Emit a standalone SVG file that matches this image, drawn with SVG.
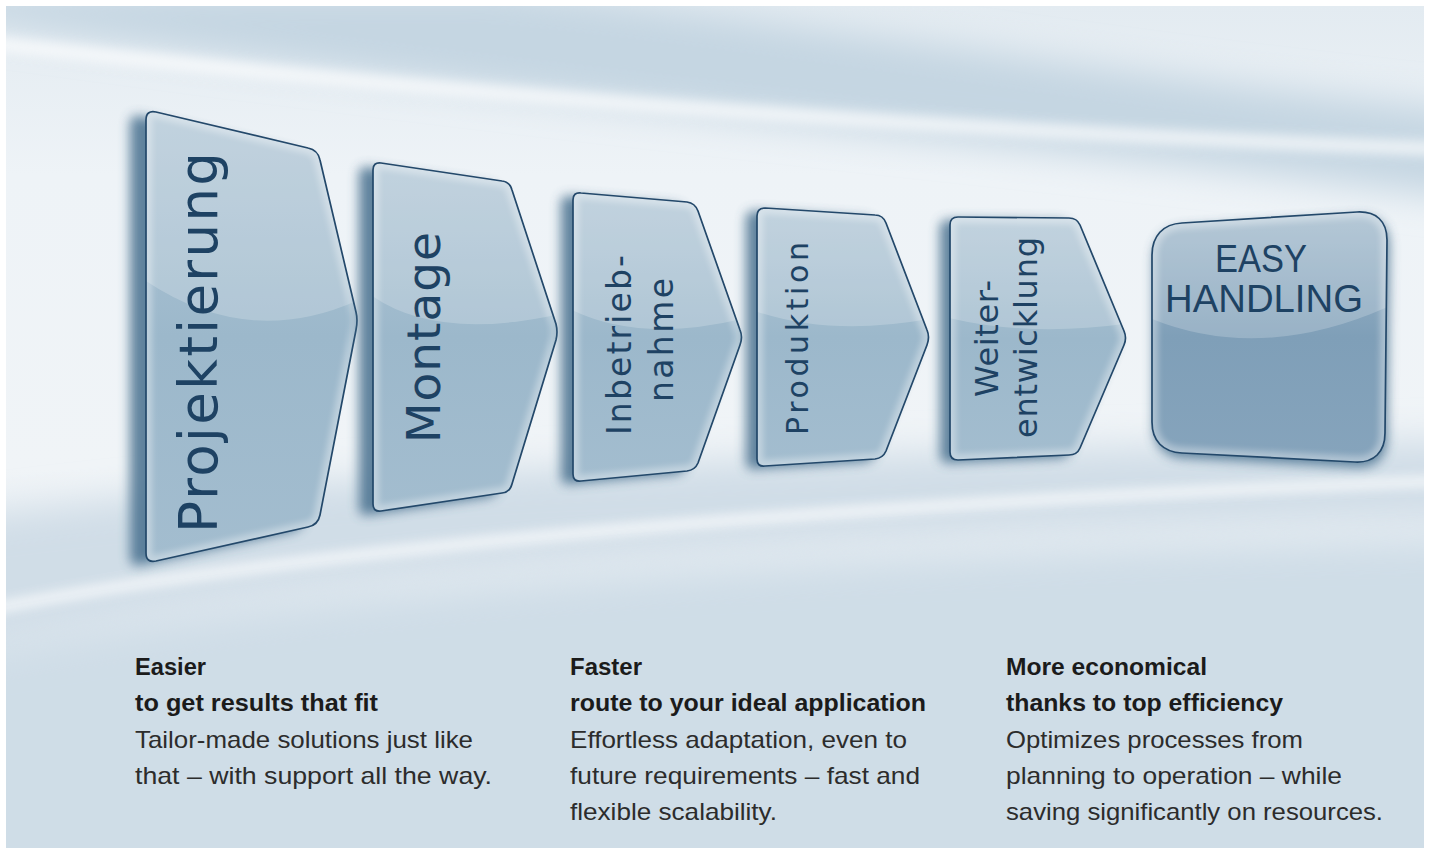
<svg xmlns="http://www.w3.org/2000/svg" width="1430" height="851" viewBox="0 0 1430 851">
<style>
.pt{font-family:"DejaVu Sans","Liberation Sans",sans-serif;fill:#1e4263;}
.ez{font-family:"Liberation Sans",Arial,sans-serif;fill:#1e4263;}
.hd{font-family:"Liberation Sans",Arial,sans-serif;font-weight:bold;font-size:23px;fill:#1b1b1b;}
.bd{font-family:"Liberation Sans",Arial,sans-serif;font-size:24px;fill:#2c2c2c;}
.edge{fill:none;stroke:#23486a;stroke-width:1.7;}
.glow{fill:none;stroke:#ffffff;stroke-width:12;opacity:.35;}
.hl{fill:#ffffff;opacity:.2;}
.sh{fill:#46708e;opacity:.85;}
</style>
<defs>
<linearGradient id="bg" x1="0" y1="0" x2="0" y2="1">
<stop offset="0" stop-color="#e3ebf1"/>
<stop offset=".2" stop-color="#eef3f7"/>
<stop offset=".55" stop-color="#f0f4f7"/>
<stop offset=".72" stop-color="#dfe8ef"/>
<stop offset="1" stop-color="#c9d9e4"/>
</linearGradient>
<linearGradient id="gp" x1="0" y1="0" x2="0" y2="1">
<stop offset="0" stop-color="#b3c8d7"/>
<stop offset=".5" stop-color="#9cb8cb"/>
<stop offset="1" stop-color="#a3bdcf"/>
</linearGradient>
<linearGradient id="gp6" x1="0" y1="0" x2="0" y2="1">
<stop offset="0" stop-color="#a3bbcd"/>
<stop offset=".5" stop-color="#7f9fb8"/>
<stop offset="1" stop-color="#86a4bc"/>
</linearGradient>
<filter id="b6" x="-30%" y="-30%" width="160%" height="160%"><feGaussianBlur stdDeviation="6"/></filter>
<filter id="b3" x="-10%" y="-10%" width="120%" height="120%"><feGaussianBlur stdDeviation="3"/></filter>
<filter id="b20" x="-20%" y="-50%" width="140%" height="200%"><feGaussianBlur stdDeviation="18"/></filter>
<clipPath id="frame"><rect x="6" y="6" width="1418" height="842"/></clipPath>
<path id="p1" d="M146,120 Q146,110 156,112 L308,148 Q318,150 320,160 L356,312 Q358,320 356,330 L320,515 Q318,525 308,527 L156,561 Q146,563 146,553 Z"/>
<path id="p2" d="M373,170 Q373,162 381,163 L502,181 Q510,182 512,190 L556,324 Q558,332 556,340 L512,484 Q510,492 502,493 L381,511 Q373,512 373,504 Z"/>
<path id="p3" d="M573,200 Q573,192 581,193 L687,202 Q695,203 698,211 L740,330 Q743,337 740,345 L698,463 Q695,470 687,471 L581,481 Q573,482 573,474 Z"/>
<path id="p4" d="M757,216 Q757,208 765,208 L875,215 Q883,215 886,223 L927,330 Q930,337 927,345 L886,451 Q883,458 875,459 L765,466 Q757,467 757,459 Z"/>
<path id="p5" d="M950,225 Q950,217 958,217 L1069,218 Q1077,218 1080,225 L1124,331 Q1127,338 1124,345 L1080,448 Q1077,455 1069,455 L958,460 Q950,460 950,452 Z"/>
<path id="p6" d="M1152,255 C1152,236 1163,224 1182,223 L1357,212 C1376,211 1387,221 1387,240 L1385,433 C1385,452 1374,463 1355,462 L1182,453 C1163,452 1152,441 1152,422 Z"/>
<clipPath id="c1"><use href="#p1"/></clipPath>
<clipPath id="c2"><use href="#p2"/></clipPath>
<clipPath id="c3"><use href="#p3"/></clipPath>
<clipPath id="c4"><use href="#p4"/></clipPath>
<clipPath id="c5"><use href="#p5"/></clipPath>
<clipPath id="c6"><use href="#p6"/></clipPath>
</defs>
<rect width="1430" height="851" fill="#ffffff"/>
<g id="background" clip-path="url(#frame)">
<rect x="6" y="6" width="1418" height="842" fill="url(#bg)"/>
<path d="M-40,-10 L500,-10 C800,20 1150,80 1470,110 L1470,200 C1100,150 600,110 -40,20 Z" fill="#c5d6e2" filter="url(#b20)"/>
<path d="M-40,40 C400,90 900,130 1470,150" fill="none" stroke="#ffffff" stroke-width="14" opacity=".7" filter="url(#b6)"/>
<path d="M-40,520 C300,470 900,450 1470,440 L1470,520 C900,530 300,560 -40,650 Z" fill="#d0dde7" filter="url(#b20)"/>
<path d="M-40,615 C300,545 900,500 1470,480" fill="none" stroke="#ffffff" stroke-width="10" opacity=".8" filter="url(#b6)"/>
<path d="M-40,660 C300,590 900,550 1470,540 L1470,900 L-40,900 Z" fill="#cfdde7" filter="url(#b20)"/>
</g>
<g id="connectors"/>
<g id="n1">
<use href="#p1" class="sh" transform="translate(-16,4)" filter="url(#b6)"/>
<use href="#p1" fill="url(#gp)"/>
<g clip-path="url(#c1)">
<path class="hl" d="M140,100 L365,100 L365,297 Q248,353 140,277 Z"/>
<use href="#p1" class="glow" filter="url(#b3)"/>
</g>
<use href="#p1" class="edge"/>
<text class="pt" font-size="53" transform="translate(217,533) rotate(-90)" textLength="381" lengthAdjust="spacing">Projektierung</text>
</g>
<g id="n2">
<use href="#p2" class="sh" transform="translate(-14,4)" filter="url(#b6)"/>
<use href="#p2" fill="url(#gp)"/>
<g clip-path="url(#c2)">
<path class="hl" d="M368,150 L565,150 L565,313 Q434,343 368,293 Z"/>
<use href="#p2" class="glow" filter="url(#b3)"/>
</g>
<use href="#p2" class="edge"/>
<text class="pt" font-size="47" transform="translate(440,443) rotate(-90)" textLength="211" lengthAdjust="spacing">Montage</text>
</g>
<g id="n3">
<use href="#p3" class="sh" transform="translate(-12,3)" filter="url(#b6)"/>
<use href="#p3" fill="url(#gp)"/>
<g clip-path="url(#c3)">
<path class="hl" d="M568,185 L750,185 L750,317 Q640,345 568,308 Z"/>
<use href="#p3" class="glow" filter="url(#b3)"/>
</g>
<use href="#p3" class="edge"/>
<text class="pt" font-size="33" transform="translate(631,435) rotate(-90)" textLength="180" lengthAdjust="spacing">Inbetrieb-</text>
<text class="pt" font-size="33" transform="translate(673,402) rotate(-90)" textLength="124" lengthAdjust="spacing">nahme</text>
</g>
<g id="n4">
<use href="#p4" class="sh" transform="translate(-11,3)" filter="url(#b6)"/>
<use href="#p4" fill="url(#gp)"/>
<g clip-path="url(#c4)">
<path class="hl" d="M752,200 L935,200 L935,318 Q830,338 752,310 Z"/>
<use href="#p4" class="glow" filter="url(#b3)"/>
</g>
<use href="#p4" class="edge"/>
<text class="pt" font-size="30" transform="translate(808,435) rotate(-90)" textLength="193" lengthAdjust="spacing">Produktion</text>
</g>
<g id="n5">
<use href="#p5" class="sh" transform="translate(-10,3)" filter="url(#b6)"/>
<use href="#p5" fill="url(#gp)"/>
<g clip-path="url(#c5)">
<path class="hl" d="M945,210 L1132,210 L1132,323 Q1030,338 945,317 Z"/>
<use href="#p5" class="glow" filter="url(#b3)"/>
</g>
<use href="#p5" class="edge"/>
<text class="pt" font-size="32" transform="translate(998,397) rotate(-90)" textLength="117" lengthAdjust="spacing">Weiter-</text>
<text class="pt" font-size="32" transform="translate(1037,438) rotate(-90)" textLength="201" lengthAdjust="spacing">entwicklung</text>
</g>
<g id="n6">
<use href="#p6" class="sh" transform="translate(2,5)" filter="url(#b6)" opacity=".5"/>
<use href="#p6" fill="url(#gp6)"/>
<g clip-path="url(#c6)">
<path class="hl" d="M1147,200 L1392,200 L1392,305 Q1260,365 1147,317 Z"/>
<use href="#p6" class="glow" filter="url(#b3)"/>
</g>
<use href="#p6" class="edge"/>
<text class="ez" font-size="39" x="1261" y="272" text-anchor="middle" textLength="92" lengthAdjust="spacingAndGlyphs">EASY</text>
<text class="ez" font-size="39" x="1264" y="312" text-anchor="middle" textLength="198" lengthAdjust="spacingAndGlyphs">HANDLING</text>
</g>
<g id="text1">
<text class="hd" x="135" y="675" textLength="71" lengthAdjust="spacingAndGlyphs">Easier</text>
<text class="hd" x="135" y="711" textLength="243" lengthAdjust="spacingAndGlyphs">to get results that fit</text>
<text class="bd" x="135" y="748" textLength="338" lengthAdjust="spacingAndGlyphs">Tailor-made solutions just like</text>
<text class="bd" x="135" y="784" textLength="357" lengthAdjust="spacingAndGlyphs">that – with support all the way.</text>
</g>
<g id="text2">
<text class="hd" x="570" y="675" textLength="72" lengthAdjust="spacingAndGlyphs">Faster</text>
<text class="hd" x="570" y="711" textLength="356" lengthAdjust="spacingAndGlyphs">route to your ideal application</text>
<text class="bd" x="570" y="748" textLength="337" lengthAdjust="spacingAndGlyphs">Effortless adaptation, even to</text>
<text class="bd" x="570" y="784" textLength="350" lengthAdjust="spacingAndGlyphs">future requirements – fast and</text>
<text class="bd" x="570" y="820" textLength="207" lengthAdjust="spacingAndGlyphs">flexible scalability.</text>
</g>
<g id="text3">
<text class="hd" x="1006" y="675" textLength="201" lengthAdjust="spacingAndGlyphs">More economical</text>
<text class="hd" x="1006" y="711" textLength="277" lengthAdjust="spacingAndGlyphs">thanks to top efficiency</text>
<text class="bd" x="1006" y="748" textLength="297" lengthAdjust="spacingAndGlyphs">Optimizes processes from</text>
<text class="bd" x="1006" y="784" textLength="336" lengthAdjust="spacingAndGlyphs">planning to operation – while</text>
<text class="bd" x="1006" y="820" textLength="377" lengthAdjust="spacingAndGlyphs">saving significantly on resources.</text>
</g>
</svg>
